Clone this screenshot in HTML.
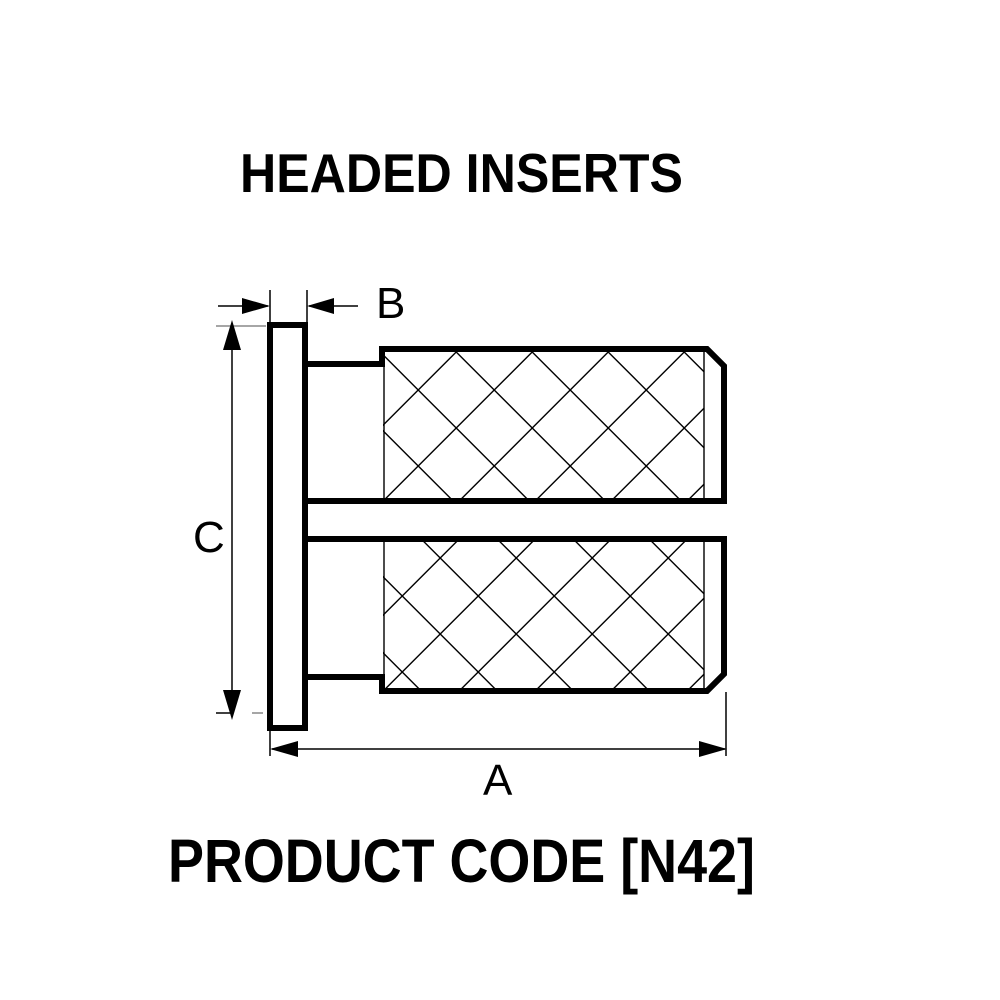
<!DOCTYPE html>
<html><head><style>html,body{margin:0;padding:0;background:#fff}svg{display:block}</style></head>
<body>
<svg width="1000" height="1000" viewBox="0 0 1000 1000" xmlns="http://www.w3.org/2000/svg">
<defs>
<clipPath id="cu"><rect x="383" y="352" width="321" height="146"/></clipPath>
<clipPath id="cl"><rect x="383" y="542" width="321" height="146"/></clipPath>
</defs>
<rect width="1000" height="1000" fill="#fff"/>
<text x="240" y="192" font-family="Liberation Sans, sans-serif" font-weight="bold" font-size="55" textLength="443" lengthAdjust="spacingAndGlyphs">HEADED INSERTS</text>
<text x="168" y="882" font-family="Liberation Sans, sans-serif" font-weight="bold" font-size="61" textLength="587" lengthAdjust="spacingAndGlyphs">PRODUCT CODE [N42]</text>

<g stroke="#000" stroke-width="1.4" fill="none">
<g clip-path="url(#cu)">
<path d="M28.2,0 l900,900 M104.2,0 l900,900 M180.2,0 l900,900 M256.2,0 l900,900 M332.2,0 l900,900 M408.2,0 l900,900 M484.2,0 l900,900 M560.2,0 l900,900 M636.2,0 l900,900 M712.2,0 l900,900 M-47.8,0 l900,900 M-123.8,0 l900,900 M-199.8,0 l900,900 M-275.8,0 l900,900 M-351.8,0 l900,900 M-427.8,0 l900,900" />
<path d="M808.2,0 l-900,900 M884.2,0 l-900,900 M960.2,0 l-900,900 M1036.2,0 l-900,900 M1112.2,0 l-900,900 M1188.2,0 l-900,900 M732.2,0 l-900,900 M656.2,0 l-900,900 M580.2,0 l-900,900 M504.2,0 l-900,900" />
</g>
<g clip-path="url(#cl)">
<path d="M-117.8,0 l900,900 M-41.8,0 l900,900 M34.2,0 l900,900 M110.2,0 l900,900 M186.2,0 l900,900 M262.2,0 l900,900 M338.2,0 l900,900 M414.2,0 l900,900 M490.2,0 l900,900 M-193.8,0 l900,900 M-269.8,0 l900,900 M-345.8,0 l900,900 M-421.8,0 l900,900 M-497.8,0 l900,900 M-573.8,0 l900,900 M-649.8,0 l900,900" />
<path d="M998.2,0 l-900,900 M1074.2,0 l-900,900 M1150.2,0 l-900,900 M1226.2,0 l-900,900 M1302.2,0 l-900,900 M1378.2,0 l-900,900 M1454.2,0 l-900,900 M922.2,0 l-900,900 M846.2,0 l-900,900 M770.2,0 l-900,900" />
</g>
<line x1="704" y1="352" x2="704" y2="498"/>
<line x1="704" y1="542" x2="704" y2="688"/>
<line x1="384" y1="352" x2="384" y2="498"/>
<line x1="384" y1="542" x2="384" y2="688"/>
</g>

<g stroke="#000" stroke-width="6" fill="none" stroke-linejoin="miter">
<rect x="270" y="325" width="35" height="403"/>
<path d="M305,364 H382 V349 H707 L724,366 V501 H305"/>
<path d="M305,539 H724 V674 L707,691 H382 V677 H305"/>
</g>

<g stroke="#000" stroke-width="1.5" fill="none">
<line x1="270" y1="290" x2="270" y2="322"/>
<line x1="307" y1="290" x2="307" y2="322"/>
<line x1="218" y1="306" x2="268" y2="306"/>
<line x1="309" y1="306" x2="358" y2="306"/>
<line x1="216" y1="326" x2="266" y2="326" stroke="#888"/>
<line x1="216" y1="713" x2="233" y2="713"/>
<line x1="252" y1="713" x2="263" y2="713" stroke="#888"/>
<line x1="232" y1="325" x2="232" y2="716"/>
<line x1="270" y1="730" x2="270" y2="756"/>
<line x1="726" y1="692" x2="726" y2="756"/>
<line x1="272" y1="749" x2="725" y2="749"/>
</g>
<g fill="#000">
<polygon points="270,306 242,298 242,314"/>
<polygon points="307,306 334,298 334,314"/>
<polygon points="232,320 223,350 241,350"/>
<polygon points="232,720 223,690 241,690"/>
<polygon points="270,749 298,741 298,757"/>
<polygon points="727,749 699,741 699,757"/>
</g>
<g font-family="Liberation Sans, sans-serif" font-size="44">
<text x="376" y="318">B</text>
<text x="193" y="552">C</text>
<text x="483" y="795">A</text>
</g>
</svg>
</body></html>
